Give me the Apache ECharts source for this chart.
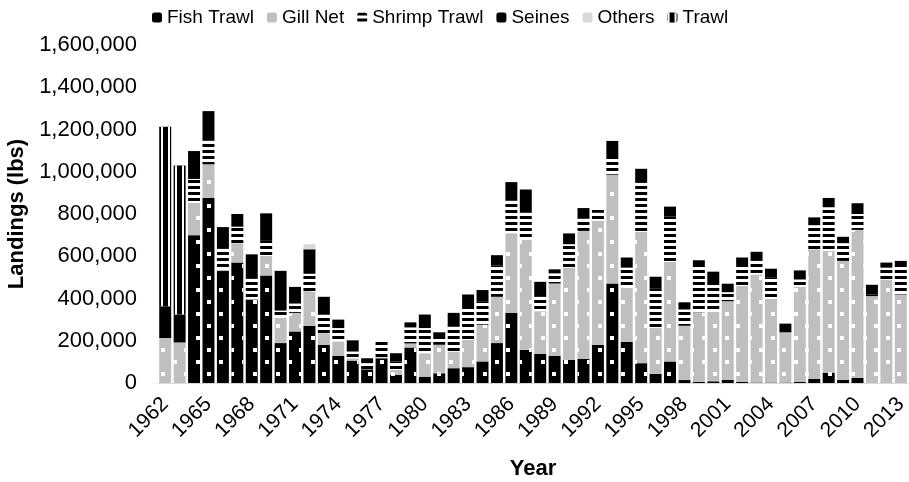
<!DOCTYPE html>
<html><head><meta charset="utf-8">
<script src="https://cdn.jsdelivr.net/npm/echarts@6/dist/echarts.min.js"></script>
<style>html,body{margin:0;padding:0;background:#fff}#c{width:909px;height:482px}</style>
</head><body><div id="c"></div>
<script>
const years = [];
for (let y = 1962; y <= 2013; y++) years.push(String(y));

const fishTrawl = [0,0,700000,876000,530000,570000,395000,509000,189000,244000,
  271000,181000,129000,106000,65000,117000,38000,168000,30000,46000,
  70000,75000,102000,189000,332000,157000,138000,129000,110000,114000,
  181000,471000,194000,94000,43000,102000,14000,5000,8000,14000,
  5000,2000,2000,2000,6000,19000,49000,14000,24000,0,0,0];
const gillNet = [213000,192000,152000,159000,5000,92000,3000,92000,119000,88000,
  164000,55000,68000,11000,0,5000,24000,19000,111000,135000,
  79000,130000,174000,219000,377000,521000,202000,342000,436000,606000,
  587000,515000,257000,622000,217000,471000,257000,330000,328000,373000,
  454000,512000,396000,238000,449000,614000,576000,564000,701000,411000,490000,419000];
const shrimpTrawl = [0,0,114000,114000,100000,78000,95000,72000,35000,44000,
  82000,88000,63000,32000,29000,72000,40000,76000,119000,32000,
  119000,150000,111000,149000,154000,130000,71000,48000,111000,59000,
  40000,79000,95000,235000,186000,216000,77000,219000,142000,43000,
  95000,64000,100000,0,35000,114000,207000,84000,75000,8000,56000,135000];
const seines = [150000,132000,132000,138000,103000,60000,116000,130000,188000,79000,
  116000,84000,40000,53000,23000,0,39000,24000,64000,27000,
  64000,64000,53000,48000,88000,108000,68000,19000,51000,49000,
  11000,81000,48000,63000,57000,46000,34000,27000,49000,40000,
  40000,43000,43000,41000,43000,37000,44000,30000,51000,46000,24000,24000];
const others = [0,0,0,0,0,0,0,0,0,0,
  24000,0,0,0,0,0,0,0,0,0,
  0,0,0,0,0,0,0,0,0,0,
  0,0,0,0,0,0,0,0,0,0,
  0,0,0,0,0,0,0,0,0,0,0,0];
const trawl = [850000,706000,0,0,0,0,0,0,0,0,
  0,0,0,0,0,0,0,0,0,0,
  0,0,0,0,0,0,0,0,0,0,
  0,0,0,0,0,0,0,0,0,0,
  0,0,0,0,0,0,0,0,0,0,0,0];
const yTicks = [0, 1600000, 200000];

const FONT = 'Liberation Sans';
const dotDecal = {symbol:'rect', symbolSize:1, symbolKeepAspect:false, color:'#ffffff',
  dashArrayX:[[4,19],[0,12,4,7]], dashArrayY:[4,8]};
const hStripe = {symbol:'rect', symbolSize:1, symbolKeepAspect:false, color:'#000000',
  dashArrayX:[10,0], dashArrayY:[3,3]};
const vStripe = {symbol:'rect', symbolSize:1, symbolKeepAspect:false, color:'#ffffff',
  dashArrayX:[2,5], dashArrayY:[10,0]};

function mk(name, data, color, decal) {
  const s = {name, type:'bar', stack:'all', data, barCategoryGap:'17%',
    itemStyle:{color}, emphasis:{disabled:true}};
  if (decal) s.itemStyle.decal = decal;
  return s;
}

const chart = echarts.init(document.getElementById('c'), null, {renderer:'canvas'});
chart.setOption({
  animation:false,
  backgroundColor:'#fff',
  textStyle:{fontFamily:FONT},
  legend:{top:3, left:147, itemWidth:10, itemHeight:10, itemGap:13,
    textStyle:{fontSize:19, color:'#000', fontFamily:FONT},
    data:['Fish Trawl','Gill Net','Shrimp Trawl','Seines','Others','Trawl']},
  grid:{left:158, right:1, top:45, bottom:99, containLabel:false, outerBoundsMode:'none'},
  xAxis:{type:'category', data:years,
    axisTick:{show:false},
    axisLine:{lineStyle:{color:'#d9d9d9', width:1}},
    axisLabel:{interval:2, rotate:45, fontSize:21, color:'#000', fontFamily:FONT, margin:18},
    name:'Year', nameLocation:'middle', nameGap:75,
    nameTextStyle:{fontSize:22, fontWeight:'bold', color:'#000', fontFamily:FONT}},
  yAxis:{type:'value', min:yTicks[0], max:yTicks[1], interval:yTicks[2],
    splitLine:{show:false}, axisLine:{show:false}, axisTick:{show:false},
    axisLabel:{fontSize:22, color:'#000', fontFamily:FONT, margin:21,
      formatter:v => v.toLocaleString('en-US')},
    name:'Landings (lbs)', nameLocation:'middle', nameGap:127,
    nameTextStyle:{fontSize:22, fontWeight:'bold', color:'#000', fontFamily:FONT}},
  series:[
    mk('Fish Trawl', fishTrawl, '#000000', dotDecal),
    mk('Gill Net', gillNet, '#bfbfbf', dotDecal),
    mk('Shrimp Trawl', shrimpTrawl, '#ffffff', hStripe),
    mk('Seines', seines, '#000000', null),
    mk('Others', others, '#d9d9d9', null),
    mk('Trawl', trawl, '#000000', vStripe)
  ]
});
</script></body></html>
